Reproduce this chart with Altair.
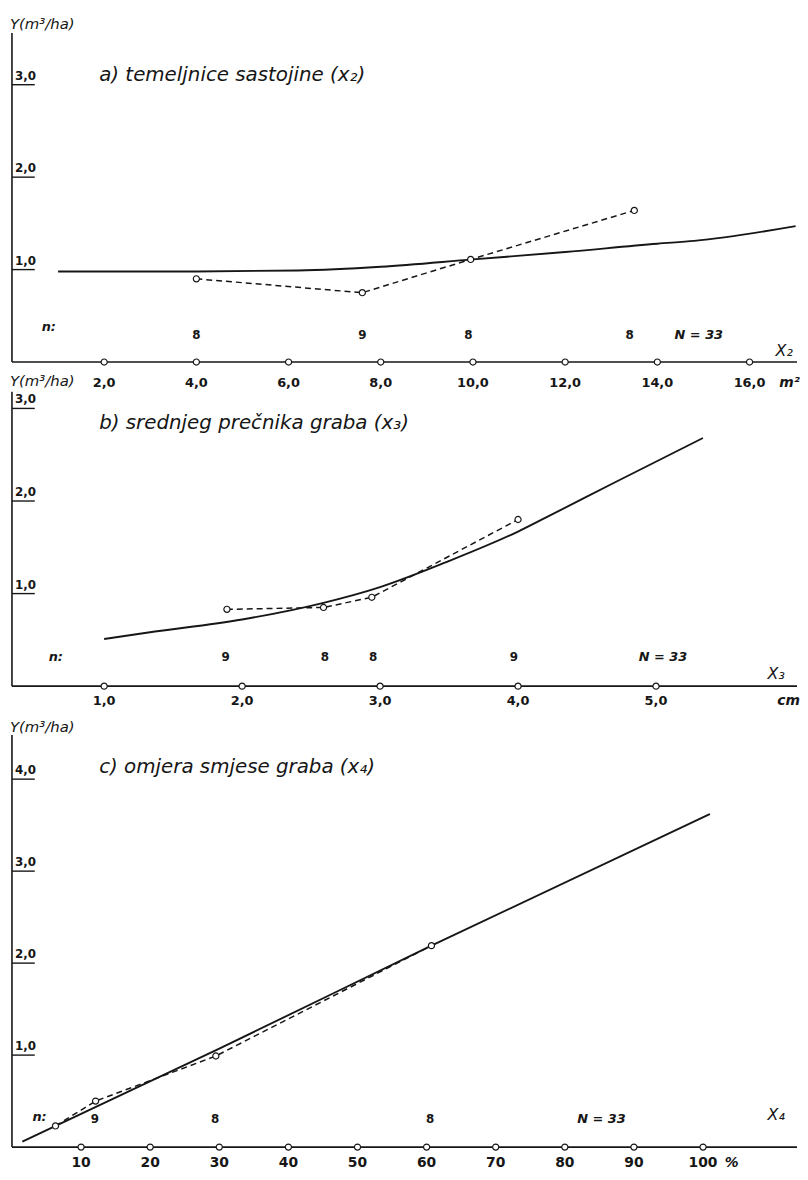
import altair as alt
import pandas as pd

BLACK = "#161616"
FONT = "DejaVu Sans"

# ---------------- panel a: temeljnice sastojine (x2) ----------------
a_solid_x = [1.0, 4.0, 6.2, 8.0, 10.0, 12.0, 14.0, 14.8, 17.0]
a_solid_y = [0.98, 0.98, 0.99, 1.03, 1.11, 1.19, 1.28, 1.31, 1.47]
a_obs_x = [4.0, 7.6, 9.95, 13.5]
a_obs_y = [0.90, 0.75, 1.11, 1.64]
a_n_x = [4.0, 7.6, 9.9, 13.4]
a_n_lbl = ["8", "9", "8", "8"]
a_ticks = [2, 4, 6, 8, 10, 12, 14, 16]
a_tick_lbl = ["2,0", "4,0", "6,0", "8,0", "10,0", "12,0", "14,0", "16,0"]
a_yticks = [1, 2, 3]
a_ytick_lbl = ["1,0", "2,0", "3,0"]

# ---------------- panel b: srednjeg prečnika graba (x3) ----------------
b_solid_x = [1.0, 1.32, 2.0, 2.59, 3.0, 3.48, 4.0, 4.2, 4.7, 5.34]
b_solid_y = [0.51, 0.58, 0.72, 0.90, 1.07, 1.34, 1.67, 1.82, 2.20, 2.68]
b_obs_x = [1.89, 2.59, 2.94, 4.0]
b_obs_y = [0.83, 0.85, 0.96, 1.80]
b_n_x = [1.88, 2.6, 2.95, 3.97]
b_n_lbl = ["9", "8", "8", "9"]
b_ticks = [1, 2, 3, 4, 5]
b_tick_lbl = ["1,0", "2,0", "3,0", "4,0", "5,0"]
b_yticks = [1, 2, 3]
b_ytick_lbl = ["1,0", "2,0", "3,0"]

# ---------------- panel c: omjera smjese graba (x4) ----------------
c_solid_x = [1.5, 30.0, 60.7, 101.0]
c_solid_y = [0.06, 1.07, 2.19, 3.62]
c_obs_x = [6.3, 12.1, 29.5, 60.7]
c_obs_y = [0.23, 0.50, 0.99, 2.19]
c_n_x = [12.0, 29.4, 60.5]
c_n_lbl = ["9", "8", "8"]
c_ticks = [10, 20, 30, 40, 50, 60, 70, 80, 90, 100]
c_tick_lbl = ["10", "20", "30", "40", "50", "60", "70", "80", "90", "100"]
c_yticks = [1, 2, 3, 4]
c_ytick_lbl = ["1,0", "2,0", "3,0", "4,0"]

W = 792


def panel(p):
    h = p["h"]
    xs = alt.Scale(domain=p["xdom"], nice=False, zero=False)
    ys = alt.Scale(domain=p["ydom"], nice=False, zero=False)

    def X(f="x:Q"):
        return alt.X(f, scale=xs, axis=None)

    def Y(f="y:Q"):
        return alt.Y(f, scale=ys, axis=None)

    # axis lines
    xline = alt.Chart(pd.DataFrame({"x": [p["xdom"][0]], "x2": [p["xdom"][1]], "y": [0]})).mark_rule(
        color=BLACK, strokeWidth=1.6).encode(x=X(), x2="x2:Q", y=Y())
    yline = alt.Chart(pd.DataFrame({"y": [0], "y2": [p["ytop"]]})).mark_rule(
        color=BLACK, strokeWidth=1.6).encode(x=alt.value(0), y=Y(), y2="y2:Q")

    solid = alt.Chart(pd.DataFrame({"x": p["solid_x"], "y": p["solid_y"]})).mark_line(
        color=BLACK, strokeWidth=1.9, interpolate="monotone").encode(x=X(), y=Y())
    obs_df = pd.DataFrame({"x": p["obs_x"], "y": p["obs_y"]})
    dashed = alt.Chart(obs_df).mark_line(color=BLACK, strokeWidth=1.5, strokeDash=[6, 4]).encode(
        x=X(), y=Y())
    pts = alt.Chart(obs_df).mark_point(shape="circle", filled=True, fill="white", stroke=BLACK,
                                       strokeWidth=1.2, size=38, opacity=1).encode(x=X(), y=Y())
    tick_df = pd.DataFrame({"x": p["ticks"], "y": [0] * len(p["ticks"]), "lbl": p["tick_lbl"]})
    tickpts = alt.Chart(tick_df).mark_point(shape="circle", filled=True, fill="white", stroke=BLACK,
                                            strokeWidth=1.2, size=38, opacity=1).encode(x=X(), y=Y())
    ticklbl = alt.Chart(tick_df).mark_text(baseline="middle", dy=p["lbl_dy"], font=FONT,
                                           fontSize=p["lblsize"], fontWeight="bold", color=BLACK).encode(
        x=X(), y=Y(), text="lbl:N")
    ytick_df = pd.DataFrame({"y": p["yticks"], "lbl": p["ytick_lbl"]})
    yrules = alt.Chart(ytick_df).mark_rule(color=BLACK, strokeWidth=1.4).encode(
        x=alt.value(0), x2=alt.value(23), y=Y())
    ylabels = alt.Chart(ytick_df).mark_text(align="left", baseline="bottom", dy=-2, font=FONT,
                                            fontSize=12, fontWeight="bold", color=BLACK).encode(
        x=alt.value(3), y=Y(), text="lbl:N")
    n_df = pd.DataFrame({"x": p["n_x"], "y": [p["ny"]] * len(p["n_x"]), "lbl": p["n_lbl"]})
    nlabels = alt.Chart(n_df).mark_text(font=FONT, fontSize=12, fontWeight="bold", color=BLACK).encode(
        x=X(), y=Y(), text="lbl:N")
    nn_df = pd.DataFrame({"x": [p["nmark_x"], p["N_x"]], "y": [p["nmark_y"], p["ny"]],
                          "lbl": ["n:", "N = 33"]})
    nnlabels = alt.Chart(nn_df).mark_text(font=FONT, fontSize=13, fontStyle="italic",
                                          fontWeight="bold", color=BLACK).encode(
        x=X(), y=Y(), text="lbl:N")
    title = alt.Chart(pd.DataFrame({"t": [p["title"]]})).mark_text(
        align="left", baseline="middle", font=FONT, fontSize=20, fontStyle="italic", color=BLACK).encode(
        x=alt.value(88), y=alt.value(p["title_y"]), text="t:N")
    ylab = alt.Chart(pd.DataFrame({"t": ["Y(m³/ha)"]})).mark_text(
        align="left", baseline="middle", font=FONT, fontSize=15, fontStyle="italic", color=BLACK).encode(
        x=alt.value(-2), y=alt.value(p["ylab_y"]), text="t:N")
    sym = alt.Chart(pd.DataFrame({"t": [p["sym"]]})).mark_text(
        align="center", baseline="middle", font=FONT, fontSize=16, fontStyle="italic", color=BLACK).encode(
        x=alt.value(p["sym_x"]), y=alt.value(h + p["sym_dy"]), text="t:N")
    unit = alt.Chart(pd.DataFrame({"t": [p["unit"]]})).mark_text(
        align="left", baseline="middle", font=FONT, fontSize=14, fontStyle="italic",
        fontWeight="bold", color=BLACK).encode(
        x=alt.value(p["unit_x"]), y=alt.value(h + p["unit_dy"]), text="t:N")

    return alt.layer(xline, yline, solid, dashed, pts, tickpts, ticklbl, yrules, ylabels, nlabels,
                     nnlabels, title, ylab, sym, unit).properties(width=W, height=h)


pa = panel(dict(h=332, xdom=[0, 17.03], ydom=[0, 3.56], ytop=3.56,
                ticks=a_ticks, tick_lbl=a_tick_lbl, yticks=a_yticks, ytick_lbl=a_ytick_lbl,
                lblsize=13, lbl_dy=21,
                solid_x=a_solid_x, solid_y=a_solid_y, obs_x=a_obs_x, obs_y=a_obs_y,
                n_x=a_n_x, n_lbl=a_n_lbl, ny=0.29, nmark_x=0.8, nmark_y=0.38, N_x=14.9,
                title="a) temeljnice sastojine (x₂)", title_y=42, ylab_y=-9,
                sym="X₂", sym_x=779, sym_dy=-11, unit="m²", unit_x=774, unit_dy=21))

# extra 19 px on top of panel c keeps one concat spacing (scale unit kept at 92.8 px)
pb = panel(dict(h=297, xdom=[0.332, 6.022], ydom=[0, 3.18], ytop=3.18,
                ticks=b_ticks, tick_lbl=b_tick_lbl, yticks=b_yticks, ytick_lbl=b_ytick_lbl,
                lblsize=13, lbl_dy=15,
                solid_x=b_solid_x, solid_y=b_solid_y, obs_x=b_obs_x, obs_y=b_obs_y,
                n_x=b_n_x, n_lbl=b_n_lbl, ny=0.32, nmark_x=0.65, nmark_y=0.32, N_x=5.05,
                title="b) srednjeg prečnika graba (x₃)", title_y=32, ylab_y=-11,
                sym="X₃", sym_x=771, sym_dy=-12, unit="cm", unit_x=772, unit_dy=15))

pc = panel(dict(h=435, xdom=[0, 113.6], ydom=[0, 4.6875], ytop=4.48,
                ticks=c_ticks, tick_lbl=c_tick_lbl, yticks=c_yticks, ytick_lbl=c_ytick_lbl,
                lblsize=14, lbl_dy=16,
                solid_x=c_solid_x, solid_y=c_solid_y, obs_x=c_obs_x, obs_y=c_obs_y,
                n_x=c_n_x, n_lbl=c_n_lbl, ny=0.31, nmark_x=4.0, nmark_y=0.33, N_x=85.3,
                title="c) omjera smjese graba (x₄)", title_y=52, ylab_y=11,
                sym="X₄", sym_x=771, sym_dy=-32, unit="%", unit_x=719, unit_dy=16))

chart = alt.vconcat(pa, pb, pc, spacing=30, bounds="flush").properties(
    padding={"top": 4, "left": 2, "right": 0, "bottom": 0},
    background="white",
).configure_view(stroke=None)

chart.save("out.html", embed_options={"renderer": "svg", "actions": False})
